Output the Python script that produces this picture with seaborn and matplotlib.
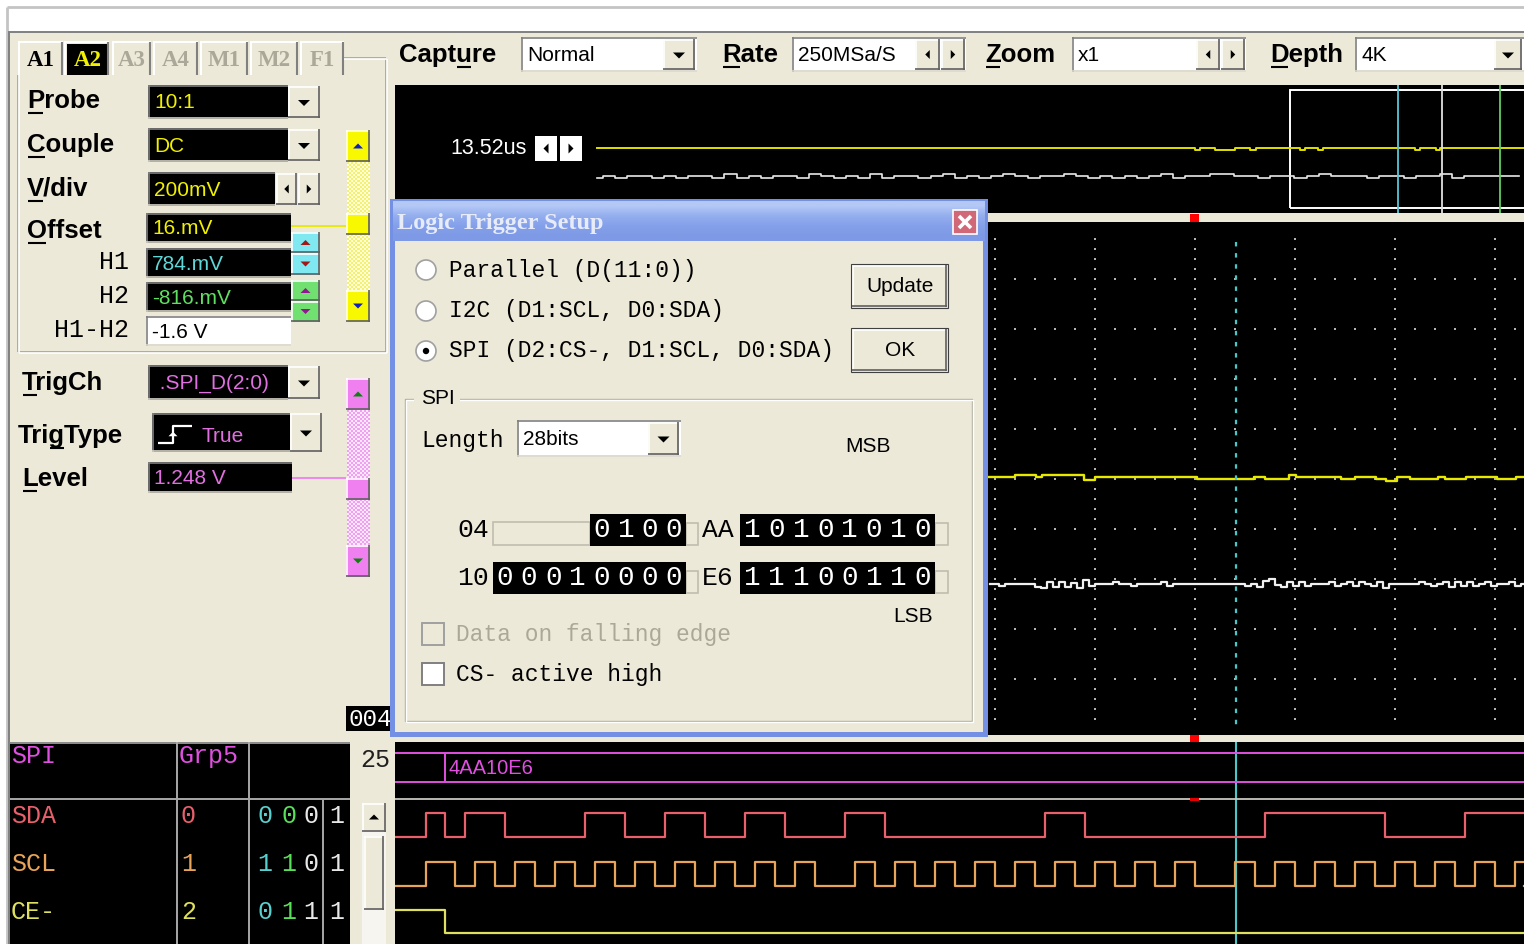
import numpy as np
import matplotlib
matplotlib.use("Agg")
import matplotlib.pyplot as plt
import matplotlib.transforms as mtransforms
from matplotlib.colors import to_rgb
from matplotlib.patches import Rectangle, Polygon, Circle
import seaborn as sns

# ---------------- captured data ----------------
# logic analyser, time in ns from the left edge of the waveform window
sda_edges = [310, 500, 700, 1100, 1900, 2300, 2700, 3100, 3500, 3900,
             4500, 4900, 6500, 6900, 8700, 9900, 10700]
scl_rise = [310, 800, 1200, 1600, 2000, 2400, 2800, 3200, 3600, 4000,
            4600, 5000, 5400, 5800, 6200, 6600, 7000, 7400, 7800,
            8400, 8800, 9200, 9600, 10000, 10400, 10800, 11200]
scl_fall = [600, 1000, 1400, 1800, 2200, 2600, 3000, 3400, 3800, 4200,
            4800, 5200, 5600, 6000, 6400, 6800, 7200, 7600, 8000,
            8600, 9000, 9400, 9800, 10200, 10600, 11000, 11400]
ce_edges = [500]
logic_end = 11290
spi_start = 500
spi_word = "4AA10E6"
cursor_ns = 8410

# channel table on the left
chan_names = ["SDA", "SCL", "CE-"]
chan_ids = ["0", "1", "2"]
chan_colors = ["#E8606C", "#E8A458", "#E0E060"]
chan_states = [["0", "0", "0", "1"], ["1", "1", "0", "1"], ["0", "1", "1", "1"]]
state_colors = ["#58D0D0", "#58E058", "#E8E8E8", "#E8E8E8"]

# analog scope, x in divisions, y in mV (200 mV/div)
ch1_t = [5.90, 6.20, 6.41, 6.47, 6.89, 7.00, 8.02, 8.59, 8.70, 8.94, 9.01,
         9.46, 9.60, 9.81, 9.91, 10.02, 10.15, 10.43, 10.50, 10.71, 11.02, 11.21]
ch1_mv = [8, 16, 8, 16, -2, 8, 0, 8, 2, 16, 8,
          0, 8, 0, -6, 8, 0, 8, 0, 8, 0, 8]
ch2_t0, ch2_dt = 5.95, 0.06
ch2_mv = [-420, -420, -428, -420, -420, -420, -420, -420, -432, -436,
          -412, -432, -412, -432, -416, -436, -404, -428, -420, -420,
          -420, -412, -420, -420, -428, -420, -420, -420, -420, -412,
          -428, -420, -420, -420, -420, -420, -420, -420, -420, -420,
          -420, -420, -420, -428, -420, -432, -408, -400, -424, -432,
          -410, -428, -412, -428, -420, -420, -420, -412, -428, -420,
          -412, -428, -412, -420, -428, -412, -436, -420, -420, -420,
          -420, -420, -412, -420, -428, -420, -412, -432, -412, -428,
          -412, -428, -420, -412, -428, -420, -420, -412, -428, -420]
trigger_div = 7.99
cursor_div = 8.41

# overview of the 4K buffer, x in samples
ov_y_smp = [733, 2902, 2921, 2975, 3047, 3102, 3124, 3283, 3301, 3349, 3367,
            3701, 3719, 3777, 3791]
ov_y_mv = [8, -22, 8, -22, 8, -22, 8, -22, 8, -22, 8, -22, 8, -22, 8]
ov_w_t0, ov_w_dt = 733, 44
ov_w_mv = [-447, -416, -447, -416, -416, -447, -416, -447, -416, -416,
           -447, -385, -447, -416, -447, -416, -416, -447, -385, -416,
           -447, -416, -447, -385, -447, -416, -416, -447, -416, -385,
           -447, -416, -447, -416, -385, -416, -447, -416, -416, -385,
           -416, -447, -416, -447, -416, -447, -416, -385, -447, -416,
           -416, -385, -385, -416, -416, -447, -416, -416, -447, -416,
           -385, -416, -416, -416, -447, -416, -416, -447, -416, -416,
           -385, -447, -416, -416, -416, -416, -416]
ov_window = (3247, 4400)
ov_marks = [(3639, "#58C8D8"), (3799, "#E0E0E0"), (4009, "#60D060")]

# trigger pattern in the dialog
trig_hex = ["04", "AA", "10", "E6"]
trig_len = [4, 8, 8, 8]

# ---------------- helpers ----------------
BEIGE = "#ECE9D8"
MONO = "Liberation Mono"
SANS = "Liberation Sans"
SERIF = "Liberation Serif"
W, H = 1524, 944

fig = plt.figure(figsize=(W / 100, H / 100), dpi=100)
A = fig.add_axes([0, 0, 1, 1])
A.set_xlim(0, W)
A.set_ylim(H, 0)
A.axis("off")


def frac(x0, y0, x1, y1):
    return [x0 / W, 1 - y1 / H, (x1 - x0) / W, (y1 - y0) / H]


def box(ax, x0, y0, x1, y1, fc, ec="none", lw=0, z=1):
    ax.add_patch(Rectangle((x0, y0), x1 - x0, y1 - y0, fc=fc, ec=ec, lw=lw, zorder=z))


def seg(ax, xs, ys, c, lw=1.2, z=3, **kw):
    ax.plot(xs, ys, color=c, lw=lw, zorder=z, solid_capstyle="butt", **kw)


def bevel(ax, x0, y0, x1, y1, face=BEIGE, sunken=False, z=2):
    box(ax, x0, y0, x1, y1, face, z=z)
    hi, lo = ("#808080", "white") if sunken else ("white", "#606060")
    seg(ax, [x0, x1], [y0 + 0.8, y0 + 0.8], hi, z=z + 0.1)
    seg(ax, [x0 + 0.8, x0 + 0.8], [y0, y1], hi, z=z + 0.1)
    seg(ax, [x0, x1], [y1 - 0.8, y1 - 0.8], lo, z=z + 0.1)
    seg(ax, [x1 - 0.8, x1 - 0.8], [y0, y1], lo, z=z + 0.1)


def tri(ax, cx, cy, s, d, c="black", z=4):
    if d == "down":
        pts = [(cx - s, cy - s / 2), (cx + s, cy - s / 2), (cx, cy + s / 2)]
    elif d == "up":
        pts = [(cx - s, cy + s / 2), (cx + s, cy + s / 2), (cx, cy - s / 2)]
    elif d == "left":
        pts = [(cx + s / 2, cy - s), (cx + s / 2, cy + s), (cx - s / 2, cy)]
    else:
        pts = [(cx - s / 2, cy - s), (cx - s / 2, cy + s), (cx + s / 2, cy)]
    ax.add_patch(Polygon(pts, closed=True, fc=c, ec="none", zorder=z))


def text(ax, x, y, s, size, color="black", family=SANS, weight="normal", ha="left", z=5):
    return ax.text(x, y, s, fontsize=size, color=color, family=family,
                   fontweight=weight, ha=ha, va="center", zorder=z)


def ul_label(ax, x, y, s, idx, size=18.5):
    text(ax, x, y, s, size, weight="bold")
    r = fig.canvas.get_renderer()

    def width(sub):
        if not sub:
            return 0
        t = ax.text(x, y, sub, fontsize=size, family=SANS, fontweight="bold")
        w = t.get_window_extent(r).width
        t.remove()
        return w
    a, b = width(s[:idx]), width(s[:idx + 1])
    seg(ax, [x + a + 1, x + b - 1], [y + 12, y + 12], "black", lw=1.5)


def checker(ax, x0, y0, x1, y1, c1, c2, z=2):
    ny, nx = int((y1 - y0) / 2), int((x1 - x0) / 2)
    m = np.indices((ny, nx)).sum(0) % 2
    rgb = np.where(m[..., None] == 0, to_rgb(c1), to_rgb(c2))
    ax.imshow(rgb, extent=(x0, x1, y1, y0), interpolation="nearest", aspect="auto", zorder=z)


def dd_button(ax, x0, y0, x1, y1):
    bevel(ax, x0, y0, x1, y1)
    tri(ax, (x0 + x1) / 2, (y0 + y1) / 2 + 1, 6, "down")


def spin_pair(ax, x0, xm, x1, y0, y1):
    bevel(ax, x0, y0, xm, y1)
    bevel(ax, xm + 1, y0, x1, y1)
    tri(ax, (x0 + xm) / 2, (y0 + y1) / 2, 4.5, "left")
    tri(ax, (xm + 1 + x1) / 2, (y0 + y1) / 2, 4.5, "right")


def field(ax, x0, y0, x1, y1, s, color, fc="black", size=15):
    box(ax, x0, y0, x1, y1, fc, z=2)
    seg(ax, [x0, x1], [y0 + 0.8, y0 + 0.8], "#808080", z=2.1)
    seg(ax, [x0 + 0.8, x0 + 0.8], [y0, y1], "#808080", z=2.1)
    seg(ax, [x0, x1], [y1 - 0.8, y1 - 0.8], "#D8D4C8", z=2.1)
    text(ax, x0 + 6, (y0 + y1) / 2 + 1, s, size, color)


# ---------------- window chrome ----------------
box(A, 0, 0, W, H, "white", z=0)
box(A, 8, 32, W, H, BEIGE, z=0.5)
seg(A, [7, W], [7, 7], "#C4C4C4", lw=2)
seg(A, [7, 7], [7, H], "#C4C4C4", lw=2)
seg(A, [8, W], [31.5, 31.5], "#808080", lw=1.4)
seg(A, [9, 9], [32, H], "#808080", lw=1.4)

# black display areas
box(A, 395, 85, W, 213, "black")
box(A, 395, 222, W, 735, "black")
box(A, 395, 742, W, H, "black")
box(A, 10, 742, 350, H, "black")

# ---------------- channel tabs ----------------
tab_names = ["A1", "A2", "A3", "A4", "M1", "M2", "F1"]
tab_x = [(18, 63), (64, 109), (112, 151), (153, 198), (200, 248), (250, 298), (300, 344)]
for name, (x0, x1) in zip(tab_names, tab_x):
    seg(A, [x0, x1], [42, 42], "white", lw=1.5)
    seg(A, [x0 + 0.8, x0 + 0.8], [42, 75], "white", lw=1.5)
    seg(A, [x1 - 0.8, x1 - 0.8], [42, 75], "#808080", lw=1.5)
    cx = (x0 + x1) / 2
    if name == "A1":
        text(A, cx, 60, name, 16.5, "black", SERIF, "bold", ha="center")
    elif name == "A2":
        box(A, x0 + 3, 44, x1 - 2, 75, "black", z=2)
        text(A, cx + 1, 60, name, 16.5, "#F0F000", SERIF, "bold", ha="center")
    else:
        text(A, cx, 60, name, 16.5, "#ACA899", SERIF, "bold", ha="center")

# etched group box around the channel settings
for off, c in [(0, "#A0A0A0"), (1.3, "white")]:
    seg(A, [344, 386 + off], [58 + off, 58 + off], c)
    seg(A, [386 + off, 386 + off], [58 + off, 352 + off], c)
    seg(A, [18 + off, 386 + off], [352 + off, 352 + off], c)
    seg(A, [18 + off, 18 + off], [75, 352 + off], c)

# ---------------- channel settings ----------------
ul_label(A, 27, 101, "Probe", 0)
ul_label(A, 27, 145, "Couple", 0)
ul_label(A, 27, 189, "V/div", 0)
ul_label(A, 27, 231, "Offset", 0)
ul_label(A, 22, 383, "TrigCh", 0)
ul_label(A, 18, 436, "TrigType", 3)
ul_label(A, 22, 479, "Level", 0)
text(A, 129, 262, "H1", 18, family=MONO, ha="right")
text(A, 129, 296, "H2", 18, family=MONO, ha="right")
text(A, 129, 330, "H1-H2", 18, family=MONO, ha="right")

field(A, 148, 85, 288, 119, "10:1", "#F0F000")
dd_button(A, 288, 86, 320, 118)
field(A, 148, 128, 288, 162, "DC", "#F0F000")
dd_button(A, 288, 129, 320, 161)
field(A, 148, 172, 275, 206, "200mV", "#F0F000")
spin_pair(A, 276, 297, 320, 173, 205)
field(A, 146, 213, 291, 243, "16.mV", "#F0F000")
field(A, 146, 248, 291, 278, "784.mV", "#60D8D8")
field(A, 146, 282, 291, 312, "-816.mV", "#60E060")
field(A, 146, 316, 291, 346, "-1.6 V", "black", fc="white")

# cursor spin buttons
for (y0, y1, d), face, ac in [((232, 253, "up"), "#80E8F0", "#A01818"),
                              ((253, 275, "down"), "#80E8F0", "#A01818"),
                              ((280, 301, "up"), "#70E070", "#901890"),
                              ((301, 322, "down"), "#70E070", "#901890")]:
    bevel(A, 291, y0, 320, y1, face=face)
    tri(A, 305.5, (y0 + y1) / 2, 5, d, ac)

field(A, 148, 365, 288, 400, " .SPI_D(2:0)", "#E070E0")
dd_button(A, 288, 366, 320, 399)
field(A, 152, 413, 290, 452, "", "#E070E0")
seg(A, [158, 173, 173, 192], [443, 443, 426, 426], "white", lw=1.6)
tri(A, 173, 434, 4.5, "up", "white")
text(A, 201, 437, "True", 15, "#E070E0")
dd_button(A, 290, 413, 322, 452)
field(A, 148, 462, 292, 493, "1.248 V", "#E070E0")


# sliders for offset and trigger level
def slider(up, thumb, dn, face, c1, c2, ac, ytie, tie_col, tie_x0):
    checker(A, 347, up[1], 370, dn[0], c1, c2)
    bevel(A, 346, up[0], 370, up[1], face=face, z=3)
    tri(A, 358, (up[0] + up[1]) / 2, 5, "up", ac, z=4)
    bevel(A, 346, dn[0], 370, dn[1], face=face, z=3)
    tri(A, 358, (dn[0] + dn[1]) / 2, 5, "down", ac, z=4)
    seg(A, [tie_x0, 346], [ytie, ytie], tie_col, lw=1.3)
    bevel(A, 346, thumb[0], 370, thumb[1], face=face, z=3)


slider((130, 162), (213, 235), (290, 322), "#F8F800", "#F4F070", "#FFFFD8", "#1020C0", 226, "#E8E800", 291)
slider((378, 410), (478, 500), (545, 577), "#F080F0", "#F0A0F0", "#FFE8FF", "#108010", 478, "#F080F0", 292)

# ---------------- toolbar ----------------
ul_label(A, 399, 55, "Capture", 4)
field(A, 521, 37, 697, 72, "Normal", "black", fc="white")
dd_button(A, 663, 39, 695, 70)
ul_label(A, 722, 55, "Rate", 0)
field(A, 792, 37, 966, 72, "250MSa/S", "black", fc="white")
spin_pair(A, 915, 940, 965, 39, 70)
ul_label(A, 985, 55, "Zoom", 0)
field(A, 1072, 37, 1246, 72, "x1", "black", fc="white")
spin_pair(A, 1196, 1220, 1245, 39, 70)
ul_label(A, 1270, 55, "Depth", 0)
field(A, 1355, 37, 1530, 72, "4K", "black", fc="white")
dd_button(A, 1494, 39, 1522, 70)

# ---------------- overview strip ----------------
O = fig.add_axes(frac(395, 85, 1524, 213), zorder=1)
O.patch.set_alpha(0)
ov_yx = ov_y_smp + [4096]
ov_yy = ov_y_mv + [ov_y_mv[-1]]
sns.lineplot(x=ov_yx, y=ov_yy, ax=O, color="#E0E000", lw=1.4, drawstyle="steps-post",
             estimator=None, sort=False, legend=False)
ov_wx = ov_w_t0 + ov_w_dt * np.arange(len(ov_w_mv))
sns.lineplot(x=ov_wx, y=ov_w_mv, ax=O, color="#E8E8E8", lw=1.2, drawstyle="steps-mid",
             estimator=None, sort=False, legend=False)
O.add_patch(Rectangle((ov_window[0], -920), ov_window[1] - ov_window[0], 1840,
                      fc="none", ec="white", lw=1.4))
for xm, c in ov_marks:
    O.axvline(xm, color=c, lw=1.3)
O.set_xlim(0, 4096)
O.set_ylim(-1000, 1000)
O.axis("off")

text(A, 450, 149, "13.52us", 15.5, "white")
for x0, d in [(535, "left"), (560, "right")]:
    box(A, x0, 136, x0 + 22, 161, "white", z=2)
    tri(A, x0 + 11, 148.5, 5, d, "black")

# ---------------- main scope ----------------
S = fig.add_axes(frac(395, 229, 1524, 729), zorder=1)
S.patch.set_alpha(0)
vx, vy = np.meshgrid(np.arange(1, 12), np.arange(-960, 961, 40))
hx, hy = np.meshgrid(np.arange(0.2, 11.29, 0.2), np.arange(-800, 801, 200))
S.scatter(np.r_[vx.ravel(), hx.ravel()], np.r_[vy.ravel(), hy.ravel()],
          s=3.5, c="#B4B4B4", marker="s", linewidths=0, zorder=1)
sns.lineplot(x=ch1_t + [11.29], y=ch1_mv + [ch1_mv[-1]], ax=S, color="#E8E800", lw=1.7,
             drawstyle="steps-post", estimator=None, sort=False, legend=False)
ch2_t = ch2_t0 + ch2_dt * np.arange(len(ch2_mv))
sns.lineplot(x=ch2_t, y=ch2_mv, ax=S, color="#F0F0F0", lw=1.6, drawstyle="steps-mid",
             estimator=None, sort=False, legend=False)
S.plot([cursor_div, cursor_div], [948, -996], color="#48C8C8", lw=1.6, ls=(0, (2, 3)))
S.set_xlim(0, 11.29)
S.set_ylim(-1000, 1000)
S.axis("off")

# trigger position markers in the beige strips
trans = mtransforms.blended_transform_factory(S.transData, A.transData)
for y0, y1 in [(213.5, 221.5), (734.5, 742)]:
    A.add_patch(Rectangle((trigger_div - 0.045, y0), 0.09, y1 - y0, transform=trans,
                          fc="#FF0000", ec="none", zorder=3))

# ---------------- logic analyser ----------------
L = fig.add_axes(frac(395, 742, 1524, 944), zorder=1)
L.patch.set_alpha(0)
L.axvline(cursor_ns, color="#48C8C8", lw=1.5, zorder=1)
seg(L, [0, logic_end], [57, 57], "#C8C8C0", lw=1.3)
seg(L, [0, logic_end], [11, 11], "#E050E0", lw=1.4)
seg(L, [0, logic_end], [40, 40], "#E050E0", lw=1.4)
seg(L, [spi_start, spi_start], [11, 40], "#E050E0", lw=1.4)
L.text(spi_start + 30, 26, spi_word, fontsize=14.5, color="#E050E0", family=SANS, va="center")
L.add_patch(Rectangle((7950, 55.5), 90, 3, fc="#E00000", ec="none", zorder=4))

levels = {"SDA": (71, 95), "SCL": (120, 144), "CE-": (168, 191)}
signals = {"SDA": (sda_edges, 0), "SCL": (sorted(scl_rise + scl_fall), 0), "CE-": (ce_edges, 1)}
for name, col in zip(chan_names, chan_colors):
    edges, start = signals[name]
    hi, lo = levels[name]
    t = [0] + list(edges) + [logic_end]
    lv = [(start + i) % 2 for i in range(len(edges) + 1)]
    lv.append(lv[-1])
    y = [lo - v * (lo - hi) for v in lv]
    sns.lineplot(x=t, y=y, ax=L, color=col, lw=1.6, drawstyle="steps-post",
                 estimator=None, sort=False, legend=False)
L.set_xlim(0, logic_end)
L.set_ylim(202, 0)
L.axis("off")

# channel table
seg(A, [10, 350], [742.5, 742.5], "#A8A8A8", lw=1.2)
seg(A, [10, 350], [799, 799], "#A8A8A8", lw=1.4)
seg(A, [177, 177], [742, H], "#A8A8A8", lw=1.4)
seg(A, [249, 249], [742, H], "#A8A8A8", lw=1.4)
seg(A, [323, 323], [800, H], "#A8A8A8", lw=1.4)
text(A, 11, 756, "SPI", 18, "#E050E0", MONO)
text(A, 179, 756, "Grp5", 18, "#E050E0", MONO)
for i, (nm, cid, col, st) in enumerate(zip(chan_names, chan_ids, chan_colors, chan_states)):
    y = 816 + 48 * i
    text(A, 11, y, nm, 18, col, MONO)
    text(A, 181, y, cid, 18, col, MONO)
    for x, v, c in zip([265, 289, 311, 337], st, state_colors):
        text(A, x, y, v, 18, c, MONO, ha="center")

text(A, 360, 760, "25", 18, "#202020", MONO)
box(A, 362, 832, 386, H, "#F6F5F0", z=2)
bevel(A, 362, 803, 386, 832)
tri(A, 374, 817, 5, "up")
bevel(A, 364, 836, 384, 910)

box(A, 346, 706, 395, 731, "black", z=2)
text(A, 349, 719, "0040", 17.5, "white", MONO)

# ---------------- dialog ----------------
B = fig.add_axes([0, 0, 1, 1], zorder=3)
B.patch.set_alpha(0)
B.axis("off")
box(B, 390, 199, 988, 737, "#7390E4", z=1)
grad = np.array([to_rgb("#B4C8F6"), to_rgb("#94AEEE"), to_rgb("#84A0EA"), to_rgb("#7E9AE6")])
grad = np.repeat(grad[:, None, :], 2, axis=1)
B.imshow(grad, extent=(393, 985, 241, 201), interpolation="bilinear", aspect="auto", zorder=2)
box(B, 395, 241, 983, 732, BEIGE, z=2)
B.text(397, 223, "Logic Trigger Setup", fontsize=17.5, color="#E8ECF8", family=SERIF,
       fontweight="bold", va="center", zorder=5)
box(B, 953, 210, 977, 234, "#D06878", ec="white", lw=1.2, z=4)
seg(B, [959, 971], [216, 228], "white", lw=2.6, z=5)
seg(B, [959, 971], [228, 216], "white", lw=2.6, z=5)

radios = ["Parallel (D(11:0))", "I2C (D1:SCL, D0:SDA)", "SPI (D2:CS-, D1:SCL, D0:SDA)"]
for i, (lab, y) in enumerate(zip(radios, [270, 311, 351])):
    B.add_patch(Circle((426, y), 10, fc="white", ec="#A0A0A0", lw=1.2, zorder=4))
    if i == 2:
        B.add_patch(Circle((426, y), 3.2, fc="black", ec="none", zorder=5))
    text(B, 449, y, lab, 16.5, "black", MONO)

for y0, y1, lab in [(265, 307, "Update"), (329, 371, "OK")]:
    bevel(B, 852, y0, 947, y1)
    B.add_patch(Rectangle((851, y0 - 1), 97, y1 - y0 + 2, fc="none", ec="#404040", lw=0.8, zorder=2.2))
    text(B, 900, (y0 + y1) / 2 + 1, lab, 15, ha="center")

for off, c in [(0, "#B0ADA0"), (1.3, "white")]:
    B.add_patch(Rectangle((405 + off, 399 + off), 567, 322, fc="none", ec=c, lw=1.0, zorder=3))
box(B, 414, 388, 460, 410, BEIGE, z=3.5)
text(B, 421, 399, "SPI", 15)

text(B, 421, 441, "Length", 16.5, family=MONO)
field(B, 517, 420, 681, 457, "28bits", "black", fc="white")
dd_button(B, 648, 422, 679, 455)
text(B, 845, 447, "MSB", 15)
text(B, 893, 616, "LSB", 15)

bit_boxes = [(590, 686, 530), (740, 935, 530), (493, 686, 578), (740, 935, 578)]
label_x = [457, 702, 457, 702]
box(B, 493, 522, 590, 545, BEIGE, ec="#C0BDB0", lw=1.2, z=3)
for hx_, n, (x0, x1, yc), lx in zip(trig_hex, trig_len, bit_boxes, label_x):
    bits = format(int(hx_, 16), "0{}b".format(n))
    text(B, lx, yc, hx_, 19, family=MONO)
    box(B, x0, yc - 16, x1, yc + 16, "black", z=3)
    box(B, 686 if x1 == 686 else 935, yc - 7, 698 if x1 == 686 else 948, yc + 15,
        BEIGE, ec="#C0BDB0", lw=1.2, z=2.9)
    step = (x1 - x0) / n
    for k, b in enumerate(bits):
        text(B, x0 + step * (k + 0.5), yc, b, 20, "white", MONO, ha="center")

B.add_patch(Rectangle((422, 623), 22, 22, fc=BEIGE, ec="#A0A0A0", lw=1.4, zorder=4))
text(B, 456, 634, "Data on falling edge", 16.5, "#ACA899", MONO)
B.add_patch(Rectangle((422, 663), 22, 22, fc="white", ec="#808080", lw=1.4, zorder=4))
text(B, 456, 674, "CS- active high", 16.5, "black", MONO)

for ax in (A, B):
    ax.set_xlim(0, W)
    ax.set_ylim(H, 0)

fig.savefig("out.png", dpi=100, facecolor="white")
